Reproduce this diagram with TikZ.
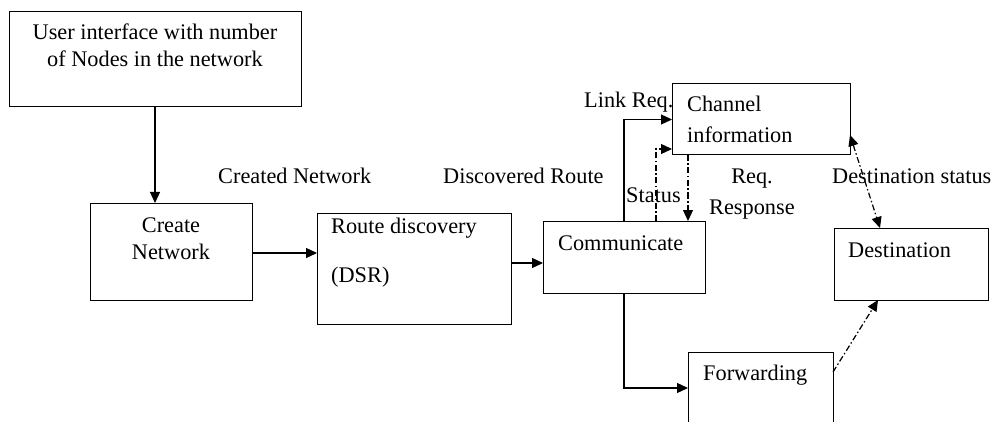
\documentclass[tikz,border=0pt]{standalone}
\usepackage{fontspec}
\setmainfont{Liberation Serif}
\usetikzlibrary{arrows.meta}

\tikzset{
  blk/.style={draw, line width=1pt, inner sep=0pt, outer sep=0pt},
  txt/.style={inner sep=0pt, anchor=base west, font=\fontsize{22.3}{27}\selectfont},
  ctxt/.style={txt, anchor=base},
  arr/.style={line width=1.2pt, -{Triangle[length=11pt,width=10pt]}},
  dd/.style={dash pattern=on 6pt off 2.5pt on 1.5pt off 2.5pt}
}

\begin{document}
\begin{tikzpicture}[x=1pt, y=-1pt]
            \useasboundingbox (0,0) rectangle (995,422);
            \clip (0,0) rectangle (995,422);

            \node[blk, minimum width=292pt, minimum height=95pt] (ui) at (155,59.5) {};
            \node[blk, minimum width=162pt, minimum height=97pt] (create) at (171,251.5) {};
            \node[blk, minimum width=194pt, minimum height=111pt] (route) at (414,268.5) {};
            \node[blk, minimum width=162pt, minimum height=72pt] (comm) at (624,257) {};
            \node[blk, minimum width=178pt, minimum height=71pt] (chan) at (761,119.5) {};
            \node[blk, minimum width=154pt, minimum height=72pt] (dest) at (911,264) {};
            \node[blk, minimum width=145pt, minimum height=88pt] (fwd) at (760.5,396) {};

            \node[ctxt] (ui1) at (155,40) {User interface with number};
            \node[ctxt] (ui2) at (155,67) {of Nodes in the network};
            \node[ctxt] (create1) at (171,232) {Create};
            \node[ctxt] (create2) at (171,259) {Network};
            \node[txt] (route1) at (331,233) {Route discovery};
            \node[txt] (route2) at (331,282) {(DSR)};
            \node[txt] (commtxt) at (558,250) {Communicate};
            \node[txt] (chan1) at (687,112) {Channel};
            \node[txt] (chan2) at (687,143) {information};
            \node[txt] (desttxt) at (848,257) {Destination};
            \node[txt] (fwdtxt) at (703,380) {Forwarding};

            \node[txt] (created) at (218,184) {Created Network};
            \node[txt] (discovered) at (443,184) {Discovered Route};
            \node[txt] (linkreq) at (584,108) {Link Req.};
            \node[txt] (status) at (626,203) {Status};
            \node[ctxt] (req) at (752,184) {Req.};
            \node[txt] (resp) at (709,214) {Response};
            \node[txt] (deststatus) at (832,183) {Destination status};

            \coordinate (rc) at ([yshift=5.5pt]route.east);
            \coordinate (rq) at ([xshift=16pt]chan.south west);

            \draw[arr] (ui.south) -- (ui.south |- create.north);
            \draw[arr] ([yshift=-1.5pt]create.east) -- ([yshift=-1.5pt]create.east -| route.west);
            \draw[arr] (rc) -- (rc -| comm.west);
            \draw[arr] (comm.north) |- (chan.west);
            \draw[arr, dd] ([xshift=32pt]comm.north) |- ([yshift=6pt]chan.south west);
            \draw[arr, dd] (rq) -- (rq |- comm.north);
            \draw[arr] (comm.south) |- ([yshift=8pt]fwd.west);
            \draw[arr, dd] ([yshift=-20pt]fwd.north east) -- ([xshift=44pt]dest.south west);
            \draw[arr, dd, {Triangle[length=11pt,width=10pt]}-{Triangle[length=11pt,width=10pt]}] ([yshift=20pt]chan.south east) -- ([xshift=46pt]dest.north west);
        \end{tikzpicture}
\end{document}
